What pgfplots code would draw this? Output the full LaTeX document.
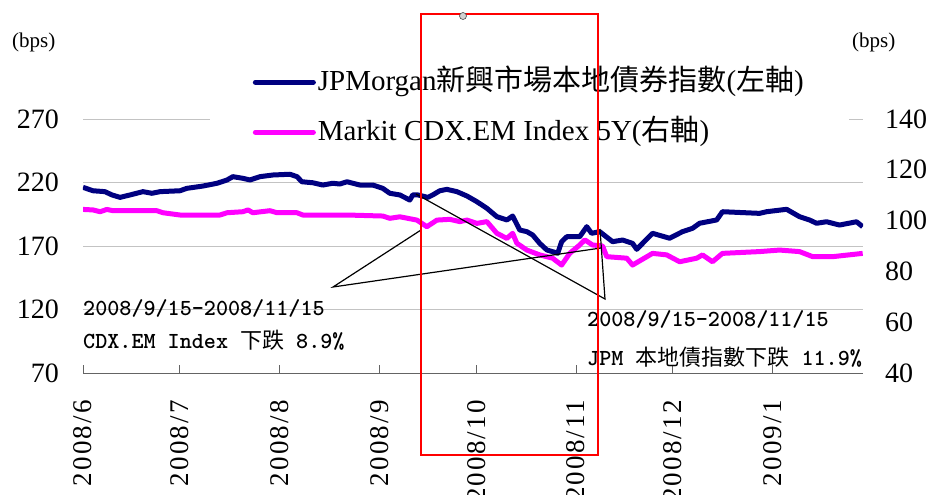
\documentclass[border=0pt]{standalone}
\usepackage{pgfplots}
\pgfplotsset{compat=1.18}
\usepackage{fontspec}
\setmainfont{Liberation Serif}
\newfontfamily\cjk{Noto Sans CJK TC}
\newfontfamily\datefont[LetterSpace=8]{Liberation Serif}

\definecolor{jpm}{RGB}{0,0,128}
\definecolor{cdx}{RGB}{255,0,255}
\definecolor{gridc}{RGB}{195,195,195}
\definecolor{axc}{RGB}{100,100,100}

\pgfplotsset{
  base/.style={
    at={(83pt,-373pt)}, anchor=south west,
    scale only axis, width=780pt, height=254pt,
    xmin=0, xmax=242,
    /pgf/number format/assume math mode=true,
    tick label style={font=\fontsize{28}{30}\selectfont},
    major grid style={gridc, line width=1pt},
  },
  ser/.style={line width=5pt, line join=round, no markers, sharp plot},
}

\begin{document}
\begin{tikzpicture}

% right axis (CDX.EM), carries the bottom axis and the grid
\begin{axis}[base,
  ymin=40, ymax=140,
  axis x line*=bottom, axis y line*=right,
  x axis line style={axc, line width=1pt},
  y axis line style={draw=none},
  xtick={0,30,61,92,122,153,183,214},
  xticklabels={2008/6,2008/7,2008/8,2008/9,2008/10,2008/11,2008/12,2009/1},
  xtick style={axc, line width=1pt},
  tick align=inside, major tick length=8pt,
  xticklabel style={rotate=90, anchor=east, inner sep=0pt, font=\datefont\fontsize{27}{30}\selectfont},
  xticklabel shift=27pt,
  ytick={40,60,...,140},
  ytick style={draw=none},
  yticklabel style={anchor=west, inner sep=0pt},
  yticklabel shift=22pt,
  extra y ticks={65,90,115,140},
  extra y tick labels={},
  extra y tick style={grid=major, major tick length=0pt},
]
\addplot[cdx, ser] table {
x y
0 104.4
3.1 104.2
5.3 103.5
7.4 104.4
9.3 103.9
22.9 103.9
24.8 103.1
30.1 102.2
42.5 102.2
44.7 103.1
49.6 103.5
51.2 104.2
52.7 103.1
58.0 103.9
60.2 103.1
66.4 103.1
68.2 102.2
81.9 102.2
93.0 101.8
95.2 100.9
98.3 101.5
103.6 100.2
106.7 97.6
109.8 100.2
113.8 100.5
116.9 99.6
119.1 100.2
122.2 98.9
125.3 99.6
128.4 95.0
131.5 93.0
133.3 95.0
134.6 91.1
137.7 88.4
141.7 86.5
145.7 85.2
148.5 82.5
151.0 87.1
154.1 90.4
155.7 92.4
158.1 90.4
161.2 90.0
162.5 85.8
168.7 85.2
170.5 82.5
176.7 87.1
181.1 86.5
185.1 83.8
190.4 85.2
192.2 86.5
195.3 83.8
198.4 87.1
209.9 87.8
216.1 88.4
222.3 87.8
226.4 85.8
232.6 85.8
241.9 87.1
};
\end{axis}

% left axis (JPMorgan local bond index)
\begin{axis}[base,
  ymin=70, ymax=270, ytick={70,120,...,270},
  hide x axis,
  axis y line*=left,
  y axis line style={draw=none},
  ytick style={draw=none},
  yticklabel style={anchor=east, inner sep=0pt},
  yticklabel shift=24pt,
  legend style={at={(axis description cs:0.1624,1.228)}, anchor=north west,
    draw=none, fill=white, inner xsep=43pt, inner ysep=4pt, row sep=16pt,
    font=\fontsize{29}{35}\selectfont,
    nodes={inner sep=2pt, text height=23pt, text depth=7pt},
    cells={anchor=west}},
  legend image code/.code={\draw[#1, line cap=round] (0pt,0pt) -- (58pt,0pt);},
]
\addplot[jpm, ser] table {
x y
0 216.2
3.1 213.5
6.8 212.8
9.0 210.2
11.5 208.3
14.6 210.2
18.6 212.8
21.4 211.5
23.9 212.8
30.1 213.5
32.2 215.4
37.2 217.2
41.6 219.4
44.7 222.0
46.5 224.6
49.6 223.3
51.8 222.0
54.9 224.6
58.9 225.9
64.2 226.5
66.4 224.6
67.9 220.6
71.3 219.8
74.4 218.0
77.5 219.4
79.7 218.8
81.9 220.6
85.9 218.0
89.9 218.0
93.0 215.4
95.2 211.5
98.3 210.2
101.4 206.2
102.3 210.2
103.9 210.2
107.0 208.3
108.5 210.2
110.7 213.5
112.9 214.6
116.0 212.8
119.1 209.4
122.2 204.9
125.3 199.7
128.4 193.1
131.5 190.5
133.3 193.6
135.5 182.6
137.7 181.3
139.5 178.7
141.7 172.1
143.9 166.9
147.3 164.3
148.5 173.4
150.1 177.3
154.1 177.3
156.3 185.2
157.8 180.0
160.3 181.3
164.3 173.4
167.4 174.7
170.5 172.1
171.8 167.4
176.7 180.0
182.0 176.1
186.0 181.3
189.1 183.9
191.3 187.9
196.6 190.5
198.4 197.0
209.9 195.7
212.1 197.0
218.3 198.9
222.3 193.1
225.4 190.5
227.6 187.9
230.7 189.1
234.7 186.5
240.0 189.1
241.9 185.2
};
\addlegendentry{JPMorgan{\cjk 新興市場本地債券指數}({\cjk 左軸})}
\addlegendimage{cdx, ser}
\addlegendentry{Markit CDX.EM Index 5Y({\cjk 右軸})}
\end{axis}

% units
\node[anchor=base west, inner sep=0pt, font=\fontsize{21}{24}\selectfont] at (12pt,-48pt) {(bps)};
\node[anchor=base west, inner sep=0pt, font=\fontsize{21}{24}\selectfont] at (852pt,-48pt) {(bps)};

% call-out lines
\draw[black, line width=1.2pt] (421pt,-230pt) -- (333pt,-287pt) -- (601pt,-248pt);
\draw[black, line width=1.2pt] (416pt,-194pt) -- (605pt,-299pt) -- (600pt,-229pt);

% call-out texts
\tikzset{callout/.style={anchor=base west, inner sep=0pt, font=\ttfamily\bfseries\fontsize{23}{28}\selectfont}}
\newcommand\zh[1]{{\cjk\mdseries\fontsize{22}{28}\selectfont #1}}
\node[callout] at (83pt,-315pt) {2008/9/15-2008/11/15};
\node[callout] at (83pt,-348pt) {CDX.EM Index \zh{下跌} 8.9\%};
\node[callout] at (587pt,-326pt) {2008/9/15-2008/11/15};
\node[callout] at (587pt,-365pt) {JPM \zh{本地債指數下跌} 11.9\%};

% highlight frame
\draw[red, line width=1.6pt] (421pt,-14pt) rectangle (598pt,-455pt);
\draw[draw=gray!60!black, fill=gray!35, line width=0.6pt] (463pt,-16pt) circle (3.5pt);

\pgfresetboundingbox
\path[use as bounding box] (0pt,0pt) rectangle (930pt,-495pt);
\end{tikzpicture}
\end{document}
